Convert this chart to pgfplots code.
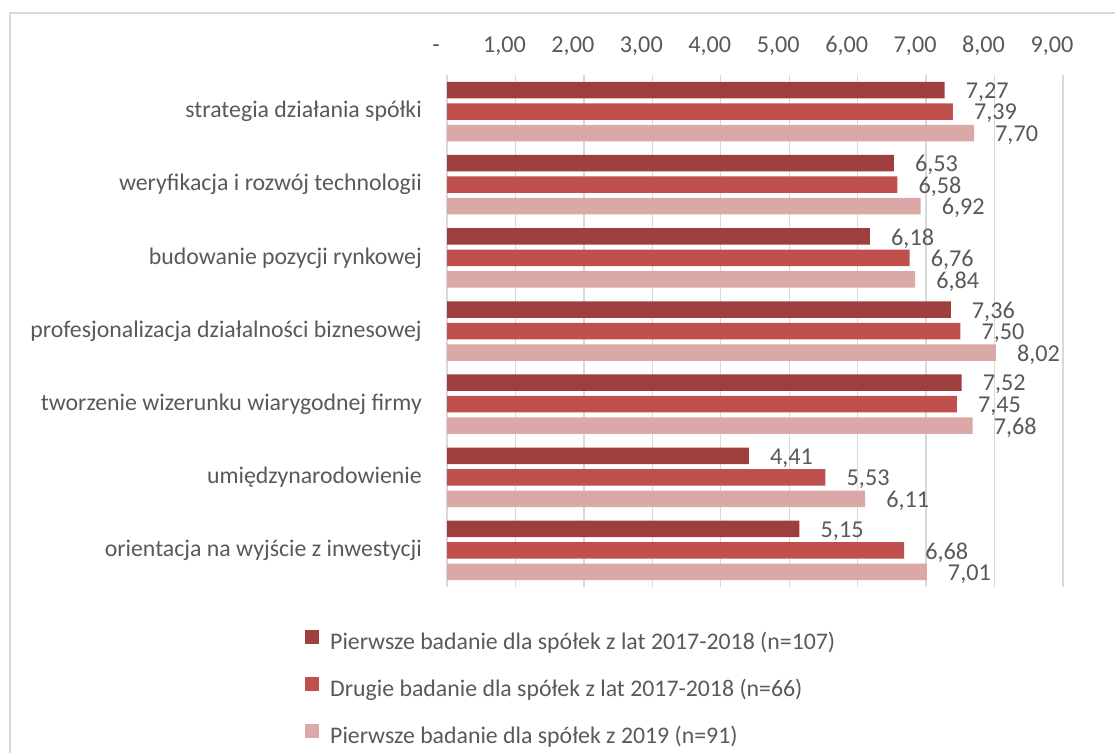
\documentclass[border=0pt]{standalone}
\usepackage{pgfplots}
\pgfplotsset{compat=1.18}
\usepackage{fontspec}
\setmainfont{Carlito}
\definecolor{c1}{HTML}{9E3F3E}
\definecolor{c2}{HTML}{C0504D}
\definecolor{c3}{HTML}{D9A8A7}
\definecolor{txt}{HTML}{595959}
\definecolor{gridc}{HTML}{D9D9D9}
\begin{document}
\begin{tikzpicture}[x=1pt,y=1pt]
\useasboundingbox (0,0) rectangle (1115,753);
\draw[gridc, line width=1.2pt] (10,0) -- (10,740) -- (1115,740);
\begin{axis}[
  at={(447pt,166pt)}, anchor=south west,
  scale only axis, width=616pt, height=512pt,
  xmin=0, xmax=9, ymin=-0.5, ymax=6.5,
  xbar, bar width=16.5pt,
  axis line style={draw=none},
  major tick length=0pt,
  xtick={0,...,9}, xmajorgrids, grid style={gridc, line width=1.3pt},
  xticklabel pos=top,
  xticklabels={{-\hspace{12pt}},{1,00},{2,00},{3,00},{4,00},{5,00},{6,00},{7,00},{8,00},{9,00}},
  xticklabel style={font=\fontsize{24.2}{28}\selectfont, text=txt, anchor=base, yshift=23pt, xshift=-11pt},
  ytick={0,...,6},
  yticklabels={orientacja na wyjście z inwestycji, umiędzynarodowienie, tworzenie wizerunku wiarygodnej firmy, profesjonalizacja działalności biznesowej, budowanie pozycji rynkowej, weryfikacja i rozwój technologii, strategia działania spółki},
  yticklabel style={font=\fontsize{23.8}{28}\selectfont, text=txt, anchor=east, inner sep=0pt, xshift=-25pt},
  nodes near coords={\pgfmathprintnumber[fixed,fixed zerofill,precision=2,use comma,assume math mode=true]{\pgfplotspointmeta}},
  every node near coord/.append style={font=\fontsize{24.2}{28}\selectfont, text=txt, anchor=west, inner sep=0pt, xshift=21pt, yshift=-2pt},
  legend image code/.code={\fill[#1] (0pt,0pt) rectangle (14pt,14pt);},
  legend style={at={(axis description cs:-0.2305,-0.084)}, anchor=north west, draw=none, fill=none, inner sep=0pt,
    font=\fontsize{23.8}{28}\selectfont, text=txt, row sep=22.5pt, column sep=11pt,
    nodes={inner sep=0pt, text height=16pt, text depth=5pt}},
  legend cell align=left,
]
\addplot[fill=c1, draw=none, bar shift=21.5pt] coordinates {(7.27,6) (6.53,5) (6.18,4) (7.36,3) (7.52,2) (4.41,1) (5.15,0)};
\addlegendentry{Pierwsze badanie dla spółek z lat 2017-2018 (n=107)}
\addplot[fill=c2, draw=none, bar shift=0pt] coordinates {(7.39,6) (6.58,5) (6.76,4) (7.50,3) (7.45,2) (5.53,1) (6.68,0)};
\addlegendentry{Drugie badanie dla spółek z lat 2017-2018 (n=66)}
\addplot[fill=c3, draw=none, bar shift=-21.5pt] coordinates {(7.70,6) (6.92,5) (6.84,4) (8.02,3) (7.68,2) (6.11,1) (7.01,0)};
\addlegendentry{Pierwsze badanie dla spółek z 2019 (n=91)}
\end{axis}
\end{tikzpicture}
\end{document}
